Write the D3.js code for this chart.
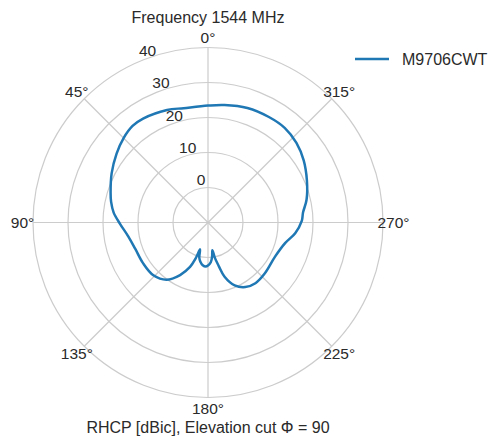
<!DOCTYPE html>
<html>
<head>
<meta charset="utf-8">
<script src="https://cdn.jsdelivr.net/npm/d3@7"></script>
<style>
  html, body { margin: 0; padding: 0; background: #fff; }
  svg { display: block; font-family: "Liberation Sans", Arial, sans-serif; }
</style>
</head>
<body>
<svg id="chart" width="489" height="443"></svg>
<script>
// ---- data ----
const angleDeg = [0, 12, 20, 32, 38, 45, 53, 63, 73, 78, 84, 91, 100, 110, 122, 134, 144, 152, 158, 161, 163.5, 166, 169, 173, 177, 180, 184, 187, 189, 191, 194, 197, 203, 210, 218, 228, 243, 255, 263, 271, 276, 283, 293, 303, 312, 321, 330, 341, 352];
const gainDb = [23.4, 23.4, 24.2, 25.0, 25.0, 24.1, 22.7, 20.9, 19.1, 18.3, 17.1, 15.1, 13.1, 12.1, 11.9, 11.7, 10.2, 7.0, 3.7, 0.9, -2.0, 0.3, 1.4, 2.3, 2.6, 2.3, 1.4, -0.3, -2.0, 0.3, 2.9, 6.2, 9.5, 11.3, 12.0, 11.8, 11.5, 12.8, 15.1, 16.8, 17.3, 18.9, 20.7, 22.6, 24.0, 24.8, 24.8, 24.6, 23.9];
const radialTicks = [0, 10, 20, 30, 40];
const angleTicks = [0, 45, 90, 135, 180, 225, 270, 315];
const seriesName = "M9706CWT";
const titleText = "Frequency 1544 MHz";
const xLabelText = "RHCP [dBic], Elevation cut \u03A6 = 90";

// ---- layout ----
const cx = 208, cy = 222.5, R = 175;
const rMin = -10, rMax = 40;
const gridColor = "#cccccc", textColor = "#2a2a2a", lineColor = "#1f77b4";

const svg = d3.select("#chart");
svg.append("rect").attr("width", 489).attr("height", 443).attr("fill", "#fff");

const r = d3.scaleLinear().domain([rMin, rMax]).range([0, R]);
const g = svg.append("g").attr("transform", `translate(${cx},${cy})`);

// ccw angles, 0 at top
const toXY = (deg, rad) => {
  const t = deg * Math.PI / 180;
  return [-rad * Math.sin(t), -rad * Math.cos(t)];
};

// grid circles
g.selectAll("circle.grid").data(radialTicks).enter().append("circle")
  .attr("class", "grid").attr("r", d => r(d))
  .attr("fill", "none").attr("stroke", gridColor).attr("stroke-width", 1.2);

// spokes
g.selectAll("line.spoke").data(angleTicks).enter().append("line")
  .attr("x1", 0).attr("y1", 0)
  .attr("x2", d => toXY(d, R)[0]).attr("y2", d => toXY(d, R)[1])
  .attr("stroke", gridColor).attr("stroke-width", 1.2);

// angle labels
g.selectAll("text.ang").data(angleTicks).enter().append("text")
  .attr("x", d => toXY(d, R + 10.5)[0]).attr("y", d => toXY(d, R + 10.5)[1])
  .attr("text-anchor", "middle").attr("dominant-baseline", "central")
  .attr("font-size", 15.5).attr("fill", textColor)
  .text(d => d + "\u00B0");

// radial labels (at 22.5deg)
g.selectAll("text.rad").data(radialTicks).enter().append("text")
  .attr("x", d => toXY(22.5, r(d))[0] + 6.5).attr("y", d => toXY(22.5, r(d))[1] - 10.4)
  .attr("text-anchor", "middle").attr("dominant-baseline", "central")
  .attr("font-size", 15.5).attr("fill", textColor)
  .text(d => d);

// data line
const pts = angleDeg.map((a, i) => [a, gainDb[i]]);
const line = d3.lineRadial()
  .angle(d => -d[0] * Math.PI / 180)
  .radius(d => r(d[1]))
  .curve(d3.curveCatmullRomClosed.alpha(0.5));
g.append("path").attr("d", line(pts))
  .attr("fill", "none").attr("stroke", lineColor).attr("stroke-width", 2.5)
  .attr("stroke-linejoin", "round");

// title and x label
svg.append("text").attr("x", cx).attr("y", 23)
  .attr("text-anchor", "middle").attr("font-size", 16).attr("fill", textColor)
  .text(titleText);
svg.append("text").attr("x", cx).attr("y", 433)
  .attr("text-anchor", "middle").attr("font-size", 16).attr("fill", textColor)
  .text(xLabelText);

// legend
svg.append("line").attr("x1", 355).attr("x2", 389).attr("y1", 59).attr("y2", 59)
  .attr("stroke", lineColor).attr("stroke-width", 2.5);
svg.append("text").attr("x", 402).attr("y", 59)
  .attr("dominant-baseline", "central").attr("font-size", 16).attr("fill", textColor)
  .text(seriesName);
</script>
</body>
</html>
